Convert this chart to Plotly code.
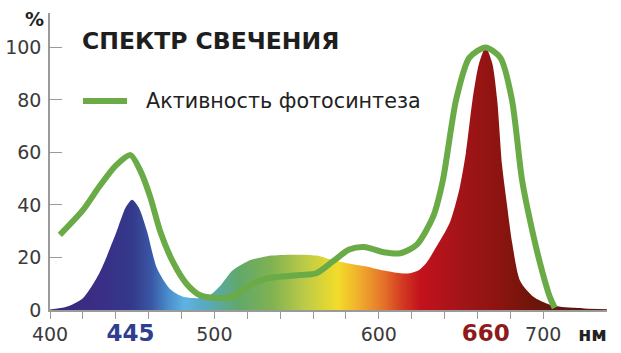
import plotly.graph_objects as go

# Emission spectrum of the lamp (nm, %)
spec_nm = [400, 410, 420, 430, 440, 446, 450, 454, 459, 465, 473, 481, 490, 497,
           504, 511, 522, 532, 545, 555, 564, 572, 583, 593, 603, 613, 619, 624, 629,
           634, 643, 649, 653, 657, 661, 665, 669, 672, 675, 678, 681, 686, 694, 704,
           714, 725, 739]
spec_val = [0.2, 1.2, 4.5, 14, 29, 39, 42, 39, 30, 16, 8, 5, 4.5, 5.5,
            9.5, 15, 19, 20.5, 21, 21, 20.5, 19, 17.5, 16.5, 15, 14, 14, 15, 18,
            23, 33, 46, 60, 80, 94, 100, 94, 80, 55, 40, 26, 11, 5, 2,
            1, 0.6, 0.3]

# Photosynthesis activity curve (nm, %)
act_nm = [406, 420, 430, 440, 449, 455, 461, 467, 475, 483, 491, 501, 511, 522, 532,
          552, 562, 572, 582, 591, 603, 613, 623, 633, 639, 647, 655, 665, 674, 681,
          687, 692, 698, 704, 707]
act_val = [28.6, 38, 47, 55, 59, 53, 43, 30, 18, 10, 5.7, 4.6, 5, 9.5, 12,
           13.3, 14, 18.5, 23, 24, 22, 21.6, 24.8, 35.5, 49.5, 80, 96, 100, 96, 80,
           50, 34, 18, 5, 0.8]

# Axis labelling
minor_ticks = list(range(400, 701, 20))
label_pos = [400, 449, 500, 600, 665, 700, 730]
label_txt = ["400",
             "<b><span style='color:#2f3f8f;font-size:23px'>445</span></b>",
             "500", "600",
             "<b><span style='color:#8e1a1a;font-size:23px'>660</span></b>",
             "700",
             "<b><span style='color:#222;font-size:19px'>нм</span></b>"]
y_ticks = [0, 20, 40, 60, 80, 100]

title_text = "СПЕКТР СВЕЧЕНИЯ"
legend_text = "Активность фотосинтеза"

spectrum_colors = [
    [0.000, "#3c2878"], [0.088, "#3a2e86"], [0.147, "#33398b"], [0.182, "#3a58a6"],
    [0.212, "#4a8ecb"], [0.241, "#5fb3e3"], [0.271, "#58aac6"], [0.300, "#5aa9a2"],
    [0.338, "#62a86a"], [0.397, "#80b252"], [0.456, "#bccb46"], [0.515, "#f3dc2a"],
    [0.553, "#f0ae2c"], [0.594, "#e6762a"], [0.629, "#d43c22"], [0.662, "#c3121d"],
    [0.735, "#a31418"], [0.809, "#8a1410"], [0.868, "#6c150a"], [1.000, "#4c1a12"],
]

fig = go.Figure()
fig.add_trace(go.Scatter(
    x=spec_nm, y=spec_val, mode="lines", fill="tozeroy",
    line=dict(width=0, shape="spline", smoothing=0.7),
    fillgradient=dict(type="horizontal", colorscale=spectrum_colors, start=400, stop=740),
    showlegend=False, hoverinfo="skip"))
fig.add_trace(go.Scatter(
    x=act_nm, y=act_val, mode="lines", name=legend_text,
    line=dict(color="#6aab47", width=6, shape="spline", smoothing=0.7),
    showlegend=False))
fig.add_trace(go.Scatter(x=[None], y=[None], xaxis="x2", showlegend=False, hoverinfo="skip"))

axis_col = "#9a9a9a"
tick_font = dict(family="DejaVu Sans", size=19, color="#3a3a3a")

fig.update_layout(
    width=621, height=353,
    margin=dict(l=50, r=14, t=13, b=43, autoexpand=False),
    plot_bgcolor="white", paper_bgcolor="white",
    title=dict(text="<b>" + title_text + "</b>", x=82 / 621, xanchor="left",
               y=1 - 41 / 353, yanchor="middle",
               font=dict(family="DejaVu Sans", size=23.5, color="#1e1e1e")),
    xaxis=dict(range=[400, 738.8], showgrid=False, zeroline=False, automargin=False,
               showline=True, linecolor=axis_col, linewidth=1.5,
               tickmode="array", tickvals=minor_ticks, ticks="outside",
               ticklen=7, tickcolor=axis_col, tickwidth=1, showticklabels=False),
    xaxis2=dict(range=[400, 738.8], overlaying="x", anchor="y", side="bottom",
                showgrid=False, zeroline=False, showline=False, ticks="", automargin=False,
                tickmode="array", tickvals=label_pos, ticktext=label_txt,
                tickfont=tick_font, ticklabelstandoff=11),
    yaxis=dict(range=[0, 113.1], showgrid=False, zeroline=False, automargin=False,
               showline=True, linecolor=axis_col, linewidth=1.5,
               tickmode="array", tickvals=y_ticks, ticks="inside", ticklen=12,
               tickcolor=axis_col, tickwidth=1, tickfont=tick_font,
               ticklabelstandoff=3),
)

# "%" axis unit
fig.add_annotation(text="<b>%</b>", xref="paper", yref="paper",
                   x=(34 - 50) / 557, y=(310 - 19) / 297, xanchor="center", yanchor="middle",
                   showarrow=False, font=dict(family="DejaVu Sans", size=19, color="#1e1e1e"))

# legend (line sample + text)
leg_y = (310 - 101) / 297
fig.add_shape(type="line", xref="paper", yref="paper",
              x0=(83 - 50) / 557, x1=(127 - 50) / 557, y0=leg_y, y1=leg_y,
              line=dict(color="#6aab47", width=6))
fig.add_annotation(text=legend_text, xref="paper", yref="paper",
                   x=(144 - 50) / 557, y=leg_y, xanchor="left", yanchor="middle",
                   showarrow=False, font=dict(family="DejaVu Sans", size=20.7, color="#222"))

fig.write_html("out.html")
